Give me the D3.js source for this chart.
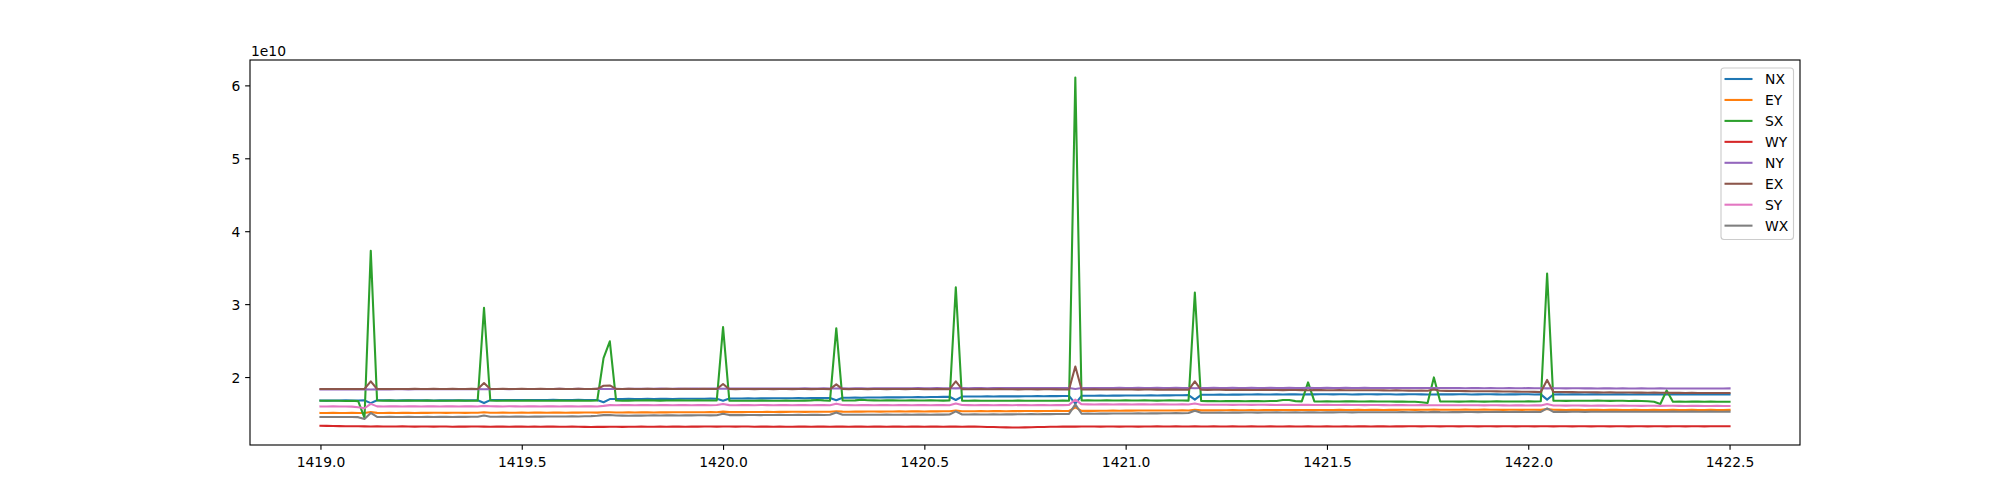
<!DOCTYPE html>
<html>
<head>
<meta charset="utf-8">
<script src="https://cdn.jsdelivr.net/npm/d3@7"></script>
<style>
  html, body { margin: 0; padding: 0; background: #ffffff; }
  svg { display: block; }
  text { font-family: "DejaVu Sans", sans-serif; fill: #000; }
</style>
</head>
<body>
<svg id="chart" width="2000" height="500"></svg>
<script>
// ---- data (values in units of 1e9) ----
const seriesNames = ["NX", "EY", "SX", "WY", "NY", "EX", "SY", "WX"];
const xStart = 1419.0;
const xStep = 1 / 64;
const xTickValues = [1419.0, 1419.5, 1420.0, 1420.5, 1421.0, 1421.5, 1422.0, 1422.5];
const xTickLabels = ["1419.0", "1419.5", "1420.0", "1420.5", "1421.0", "1421.5", "1422.0", "1422.5"];
const yTickValues = [2e10, 3e10, 4e10, 5e10, 6e10];
const yTickLabels = ["2", "3", "4", "5", "6"];
const yOffsetLabel = "1e10";

const NX = [
16.78,16.77,16.79,16.78,16.80,16.79,16.78,16.80,16.42,16.82,
16.81,16.80,16.79,16.81,16.80,16.82,16.81,16.80,16.79,16.81,
16.80,16.82,16.81,16.80,16.82,16.81,16.44,16.84,16.83,16.85,
16.84,16.85,16.86,16.84,16.85,16.86,16.85,16.87,16.86,16.85,
16.86,16.87,16.86,16.85,16.86,16.55,16.98,17.00,16.99,17.01,
17.00,16.99,17.01,17.00,17.02,17.01,17.00,17.02,17.03,17.02,
17.03,17.02,17.04,17.03,16.76,17.05,17.06,17.05,17.07,17.06,
17.08,17.07,17.09,17.08,17.10,17.09,17.11,17.10,17.12,17.11,
17.12,17.13,16.82,17.15,17.16,17.18,17.17,17.19,17.20,17.19,
17.21,17.22,17.21,17.23,17.24,17.25,17.24,17.26,17.27,17.28,
17.29,16.85,17.32,17.33,17.34,17.33,17.35,17.34,17.36,17.35,
17.36,17.35,17.37,17.36,17.38,17.37,17.39,17.38,17.40,17.41,
16.35,17.43,17.44,17.43,17.45,17.44,17.46,17.45,17.47,17.46,
17.48,17.47,17.49,17.48,17.50,17.49,17.51,17.50,17.52,16.90,
17.56,17.58,17.57,17.59,17.58,17.60,17.59,17.61,17.60,17.62,
17.61,17.60,17.62,17.61,17.63,17.62,17.61,17.63,17.62,17.64,
17.63,17.62,17.64,17.63,17.61,17.62,17.64,17.63,17.62,17.64,
17.63,17.61,17.62,17.64,17.63,17.62,17.61,17.60,17.62,17.63,
17.62,17.64,17.63,17.61,17.62,17.63,17.64,17.62,17.61,17.63,
17.62,17.64,17.63,17.61,17.62,16.90,17.60,17.62,17.61,17.63,
17.62,17.61,17.63,17.62,17.60,17.61,17.63,17.62,17.61,17.60,
17.62,17.61,17.63,17.62,17.61,17.60,17.62,17.61,17.63,17.62,
17.61,17.60,17.62,17.61,17.62
];

const EY = [
15.08,15.07,15.09,15.08,15.07,15.09,15.08,15.06,15.20,15.09,
15.08,15.09,15.08,15.10,15.09,15.08,15.10,15.09,15.11,15.10,
15.09,15.11,15.10,15.09,15.11,15.10,15.16,15.11,15.10,15.12,
15.11,15.10,15.12,15.11,15.13,15.12,15.11,15.13,15.12,15.11,
15.13,15.12,15.14,15.13,15.12,15.16,15.18,15.14,15.13,15.15,
15.14,15.16,15.15,15.14,15.16,15.15,15.17,15.16,15.18,15.17,
15.18,15.17,15.19,15.18,15.26,15.19,15.20,15.19,15.21,15.20,
15.21,15.22,15.21,15.23,15.22,15.24,15.23,15.22,15.24,15.23,
15.25,15.24,15.32,15.26,15.25,15.27,15.26,15.28,15.27,15.26,
15.28,15.27,15.29,15.28,15.30,15.29,15.28,15.30,15.29,15.31,
15.30,15.40,15.31,15.32,15.31,15.33,15.32,15.34,15.33,15.32,
15.34,15.33,15.35,15.34,15.33,15.35,15.34,15.36,15.35,15.34,
15.85,15.36,15.37,15.36,15.38,15.37,15.39,15.38,15.40,15.39,
15.41,15.40,15.42,15.41,15.40,15.42,15.41,15.43,15.42,15.50,
15.43,15.44,15.43,15.45,15.44,15.46,15.45,15.44,15.46,15.45,
15.47,15.46,15.48,15.47,15.46,15.48,15.47,15.49,15.48,15.47,
15.49,15.48,15.50,15.49,15.48,15.50,15.49,15.51,15.50,15.49,
15.51,15.50,15.52,15.51,15.50,15.52,15.51,15.53,15.52,15.51,
15.52,15.51,15.53,15.52,15.51,15.53,15.52,15.51,15.50,15.52,
15.51,15.50,15.52,15.51,15.50,15.62,15.51,15.50,15.49,15.51,
15.50,15.49,15.51,15.50,15.49,15.51,15.50,15.49,15.48,15.50,
15.49,15.48,15.50,15.49,15.48,15.50,15.49,15.48,15.50,15.49,
15.48,15.50,15.49,15.48,15.49
];

const SX = [
16.76,16.75,16.74,16.76,16.72,16.74,16.70,14.40,37.30,16.78,
16.76,16.77,16.75,16.76,16.78,16.76,16.75,16.77,16.76,16.74,
16.76,16.75,16.77,16.76,16.74,16.76,29.50,16.78,16.76,16.75,
16.77,16.76,16.75,16.77,16.76,16.74,16.76,16.75,16.77,16.76,
16.75,16.77,16.76,16.75,16.78,22.60,24.90,16.78,16.76,16.77,
16.79,16.78,16.80,16.79,16.77,16.79,16.78,16.80,16.79,16.78,
16.80,16.79,16.78,16.80,26.85,16.76,16.75,16.74,16.76,16.75,
16.77,16.76,16.74,16.75,16.77,16.76,16.75,16.77,16.80,16.86,
16.80,16.76,26.70,16.79,16.78,16.80,16.88,16.81,16.80,16.79,
16.81,16.80,16.79,16.78,16.80,16.79,16.78,16.80,16.79,16.77,
16.78,32.30,16.76,16.75,16.77,16.74,16.76,16.75,16.74,16.76,
16.75,16.77,16.74,16.76,16.75,16.74,16.76,16.75,16.77,16.74,
61.08,16.79,16.80,16.78,16.79,16.81,16.79,16.78,16.80,16.79,
16.78,16.80,16.79,16.77,16.78,16.80,16.79,16.78,16.77,31.60,
16.72,16.70,16.71,16.69,16.70,16.72,16.70,16.69,16.71,16.70,
16.69,16.71,16.72,16.86,16.84,16.70,16.66,19.26,16.66,16.65,
16.66,16.64,16.65,16.67,16.66,16.64,16.65,16.66,16.64,16.65,
16.64,16.63,16.64,16.62,16.60,16.55,16.45,19.95,16.66,16.64,
16.65,16.63,16.64,16.66,16.65,16.63,16.64,16.66,16.65,16.64,
16.64,16.65,16.66,16.64,16.68,34.20,16.74,16.75,16.73,16.74,
16.76,16.74,16.75,16.78,16.74,16.73,16.75,16.74,16.72,16.73,
16.71,16.68,16.60,16.30,18.16,16.62,16.63,16.62,16.64,16.63,
16.62,16.63,16.62,16.61,16.62
];

const WY = [
13.32,13.30,13.28,13.27,13.26,13.25,13.24,13.23,13.22,13.23,
13.22,13.21,13.22,13.23,13.21,13.20,13.22,13.21,13.20,13.22,
13.21,13.19,13.21,13.20,13.22,13.21,13.20,13.19,13.21,13.20,
13.19,13.21,13.20,13.18,13.20,13.19,13.21,13.20,13.19,13.18,
13.20,13.19,13.17,13.16,13.18,13.17,13.19,13.18,13.17,13.19,
13.18,13.20,13.19,13.18,13.20,13.19,13.21,13.20,13.19,13.21,
13.20,13.22,13.21,13.20,13.22,13.21,13.20,13.22,13.21,13.19,
13.20,13.21,13.19,13.20,13.18,13.19,13.21,13.20,13.19,13.21,
13.20,13.19,13.21,13.20,13.19,13.21,13.20,13.19,13.21,13.20,
13.19,13.21,13.20,13.19,13.21,13.20,13.19,13.21,13.20,13.19,
13.21,13.20,13.19,13.21,13.20,13.18,13.16,13.14,13.12,13.10,
13.09,13.08,13.10,13.12,13.14,13.16,13.18,13.19,13.20,13.21,
13.20,13.21,13.22,13.21,13.20,13.22,13.21,13.20,13.22,13.21,
13.20,13.22,13.21,13.23,13.22,13.21,13.23,13.22,13.21,13.23,
13.22,13.21,13.23,13.22,13.21,13.23,13.22,13.21,13.23,13.22,
13.21,13.23,13.22,13.21,13.23,13.22,13.21,13.23,13.22,13.21,
13.23,13.22,13.21,13.23,13.22,13.24,13.23,13.22,13.24,13.23,
13.22,13.24,13.23,13.25,13.24,13.23,13.25,13.24,13.23,13.25,
13.24,13.23,13.25,13.24,13.23,13.25,13.24,13.23,13.25,13.24,
13.23,13.25,13.24,13.23,13.25,13.24,13.23,13.25,13.24,13.23,
13.25,13.24,13.23,13.25,13.24,13.23,13.25,13.24,13.23,13.25,
13.24,13.23,13.25,13.24,13.23,13.25,13.24,13.23,13.25,13.24,
13.23,13.25,13.24,13.25,13.26
];

const NY = [
18.30,18.31,18.30,18.29,18.31,18.30,18.32,18.31,18.30,18.31,
18.32,18.31,18.33,18.32,18.31,18.33,18.32,18.34,18.33,18.32,
18.34,18.33,18.35,18.34,18.33,18.35,18.33,18.34,18.36,18.35,
18.34,18.36,18.35,18.37,18.36,18.35,18.37,18.36,18.38,18.37,
18.36,18.38,18.37,18.36,18.38,18.37,18.36,18.38,18.37,18.39,
18.38,18.40,18.39,18.40,18.41,18.40,18.39,18.41,18.40,18.42,
18.41,18.40,18.42,18.41,18.40,18.42,18.41,18.43,18.42,18.41,
18.43,18.42,18.44,18.43,18.42,18.44,18.43,18.45,18.44,18.43,
18.45,18.44,18.43,18.45,18.44,18.46,18.45,18.44,18.46,18.45,
18.47,18.46,18.45,18.47,18.46,18.48,18.47,18.46,18.48,18.47,
18.46,18.45,18.48,18.47,18.49,18.48,18.47,18.49,18.48,18.50,
18.49,18.48,18.50,18.49,18.48,18.50,18.49,18.48,18.50,18.49,
18.36,18.49,18.50,18.49,18.48,18.50,18.49,18.51,18.50,18.49,
18.51,18.50,18.49,18.51,18.50,18.49,18.51,18.50,18.49,18.47,
18.50,18.49,18.51,18.50,18.49,18.51,18.50,18.49,18.51,18.50,
18.49,18.51,18.50,18.49,18.51,18.50,18.49,18.51,18.50,18.49,
18.51,18.50,18.49,18.51,18.50,18.49,18.51,18.50,18.49,18.50,
18.49,18.48,18.50,18.49,18.48,18.50,18.49,18.48,18.50,18.49,
18.48,18.49,18.47,18.48,18.49,18.47,18.48,18.46,18.47,18.48,
18.46,18.47,18.48,18.46,18.47,18.45,18.46,18.47,18.45,18.46,
18.47,18.45,18.46,18.44,18.45,18.46,18.44,18.45,18.43,18.44,
18.45,18.43,18.44,18.45,18.43,18.44,18.42,18.43,18.44,18.42,
18.43,18.44,18.42,18.43,18.44
];

const EX = [
18.36,18.37,18.36,18.35,18.37,18.36,18.35,18.37,19.40,18.36,
18.37,18.36,18.35,18.37,18.36,18.38,18.37,18.36,18.38,18.37,
18.36,18.38,18.37,18.36,18.38,18.37,19.18,18.37,18.36,18.38,
18.37,18.36,18.38,18.37,18.36,18.38,18.37,18.36,18.38,18.37,
18.36,18.38,18.37,18.36,18.38,18.80,18.85,18.37,18.36,18.38,
18.37,18.36,18.38,18.37,18.36,18.38,18.37,18.36,18.38,18.37,
18.36,18.38,18.37,18.36,19.04,18.35,18.34,18.36,18.35,18.34,
18.36,18.35,18.34,18.36,18.35,18.34,18.36,18.35,18.34,18.36,
18.35,18.34,19.00,18.35,18.34,18.36,18.35,18.34,18.36,18.35,
18.34,18.36,18.35,18.34,18.36,18.35,18.34,18.33,18.35,18.34,
18.33,19.40,18.34,18.33,18.32,18.34,18.33,18.32,18.34,18.33,
18.32,18.31,18.33,18.32,18.31,18.33,18.32,18.31,18.30,18.31,
21.45,18.30,18.29,18.31,18.30,18.29,18.28,18.30,18.29,18.28,
18.27,18.29,18.28,18.27,18.26,18.28,18.27,18.26,18.25,19.40,
18.25,18.24,18.26,18.25,18.24,18.23,18.25,18.24,18.23,18.22,
18.24,18.23,18.22,18.21,18.23,18.22,18.21,18.20,18.22,18.21,
18.20,18.19,18.21,18.20,18.19,18.18,18.20,18.19,18.18,18.17,
18.16,18.17,18.15,18.14,18.13,18.14,18.12,18.30,18.11,18.10,
18.09,18.08,18.07,18.06,18.05,18.06,18.04,18.03,18.02,18.01,
18.00,17.99,17.98,17.97,17.96,19.60,17.95,17.94,17.93,17.94,
17.92,17.91,17.92,17.90,17.89,17.90,17.88,17.87,17.88,17.86,
17.87,17.85,17.86,17.84,17.85,17.83,17.84,17.82,17.83,17.82,
17.81,17.82,17.80,17.81,17.82
];

const SY = [
15.97,15.96,15.98,15.97,15.96,15.94,15.85,15.72,16.32,15.98,
15.97,15.99,15.98,15.97,15.99,15.98,15.97,15.99,15.98,15.97,
15.99,15.98,15.97,15.99,15.98,15.97,16.05,15.99,15.98,15.97,
15.99,15.98,15.97,15.99,15.98,15.97,15.99,15.98,15.97,15.99,
15.98,15.97,15.99,15.98,15.97,16.05,16.15,16.14,16.16,16.15,
16.14,16.16,16.15,16.14,16.16,16.15,16.14,16.16,16.15,16.14,
16.16,16.15,16.14,16.16,16.30,16.15,16.14,16.16,16.15,16.14,
16.16,16.15,16.14,16.16,16.15,16.14,16.16,16.15,16.14,16.16,
16.15,16.14,16.35,16.16,16.15,16.14,16.16,16.15,16.14,16.16,
16.15,16.14,16.16,16.15,16.14,16.16,16.15,16.14,16.16,16.15,
16.14,16.36,16.16,16.15,16.14,16.16,16.15,16.14,16.16,16.15,
16.14,16.16,16.15,16.14,16.16,16.15,16.14,16.16,16.15,16.18,
16.90,16.26,16.25,16.24,16.26,16.25,16.24,16.26,16.25,16.24,
16.26,16.25,16.24,16.26,16.25,16.24,16.23,16.25,16.24,16.36,
16.20,16.19,16.21,16.20,16.19,16.18,16.20,16.19,16.18,16.20,
16.19,16.18,16.17,16.19,16.18,16.17,16.19,16.18,16.17,16.16,
16.18,16.17,16.16,16.18,16.17,16.16,16.15,16.17,16.16,16.15,
16.14,16.16,16.15,16.14,16.13,16.15,16.14,16.13,16.12,16.14,
16.13,16.12,16.14,16.13,16.12,16.11,16.13,16.12,16.11,16.10,
16.12,16.11,16.10,16.12,16.11,16.30,16.10,16.09,16.08,16.10,
16.09,16.08,16.07,16.09,16.08,16.07,16.06,16.08,16.07,16.06,
16.05,16.07,16.06,16.05,16.07,16.06,16.05,16.04,16.06,16.05,
16.04,16.03,16.05,16.04,16.03
];

const WX = [
14.52,14.51,14.53,14.52,14.51,14.53,14.50,14.25,15.07,14.53,
14.52,14.54,14.53,14.52,14.54,14.53,14.52,14.54,14.53,14.55,
14.54,14.53,14.55,14.54,14.56,14.55,14.72,14.56,14.55,14.57,
14.56,14.58,14.57,14.56,14.58,14.57,14.59,14.58,14.60,14.59,
14.61,14.60,14.62,14.64,14.68,14.78,14.80,14.72,14.71,14.70,
14.72,14.71,14.73,14.74,14.73,14.75,14.74,14.73,14.75,14.74,
14.76,14.75,14.74,14.76,14.97,14.78,14.79,14.78,14.80,14.79,
14.78,14.80,14.79,14.81,14.80,14.79,14.81,14.80,14.82,14.81,
14.80,14.82,15.15,14.83,14.82,14.84,14.83,14.82,14.84,14.83,
14.85,14.84,14.83,14.85,14.84,14.86,14.85,14.84,14.86,14.85,
14.86,15.29,14.87,14.86,14.88,14.87,14.86,14.88,14.87,14.89,
14.88,14.90,14.89,14.91,14.90,14.92,14.91,14.93,14.92,14.94,
16.25,14.97,14.98,14.97,14.99,14.98,15.00,14.99,15.01,15.00,
15.02,15.01,15.03,15.02,15.04,15.03,15.05,15.04,15.06,15.38,
15.10,15.11,15.10,15.12,15.11,15.13,15.12,15.14,15.13,15.12,
15.14,15.13,15.15,15.14,15.13,15.15,15.14,15.16,15.15,15.14,
15.16,15.15,15.17,15.16,15.15,15.17,15.16,15.18,15.17,15.16,
15.18,15.17,15.19,15.18,15.17,15.19,15.18,15.22,15.19,15.18,
15.20,15.19,15.21,15.20,15.19,15.21,15.20,15.22,15.21,15.20,
15.22,15.21,15.20,15.22,15.21,15.70,15.22,15.23,15.22,15.24,
15.23,15.22,15.24,15.23,15.25,15.24,15.23,15.25,15.24,15.23,
15.25,15.24,15.23,15.25,15.24,15.26,15.25,15.24,15.26,15.25,
15.24,15.26,15.25,15.24,15.25
];

const seriesValues = [NX, EY, SX, WY, NY, EX, SY, WX];
const seriesColors = ["#1f77b4", "#ff7f0e", "#2ca02c", "#d62728", "#9467bd", "#8c564b", "#e377c2", "#7f7f7f"];

// ---- layout ----
const W = 2000, H = 500;
const margin = { left: 250, right: 200, top: 60, bottom: 55 };
const plotW = W - margin.left - margin.right;
const plotH = H - margin.top - margin.bottom;
const FONT = 13.89;
const PT = 100 / 72;           // matplotlib points -> px at dpi 100
const LINE_W = 1.5 * PT;
const SPINE_W = 0.8 * PT;
const TICK_LEN = 3.5 * PT;
const TICK_PAD = 3.5 * PT;

const xs = seriesValues[0].map((_, i) => xStart + i * xStep);
const series = seriesNames.map((name, k) => ({
  name,
  color: seriesColors[k],
  points: seriesValues[k].map((v, i) => ({ x: xs[i], y: v * 1e9 }))
}));

const xMin = d3.min(xs), xMax = d3.max(xs);
const xPad = (xMax - xMin) * 0.05;
const allY = series.flatMap(s => s.points.map(p => p.y));
const yMin = d3.min(allY), yMax = d3.max(allY);
const yPad = (yMax - yMin) * 0.05;

const x = d3.scaleLinear().domain([xMin - xPad, xMax + xPad]).range([margin.left, margin.left + plotW]);
const y = d3.scaleLinear().domain([yMin - yPad, yMax + yPad]).range([margin.top + plotH, margin.top]);

const svg = d3.select("#chart");
svg.append("rect").attr("width", W).attr("height", H).attr("fill", "#fff");

// clip
svg.append("clipPath").attr("id", "clip")
  .append("rect").attr("x", margin.left).attr("y", margin.top).attr("width", plotW).attr("height", plotH);

// lines
const line = d3.line().x(d => x(d.x)).y(d => y(d.y));
const gLines = svg.append("g").attr("clip-path", "url(#clip)");
series.forEach(s => {
  gLines.append("path")
    .datum(s.points)
    .attr("d", line)
    .attr("fill", "none")
    .attr("stroke", s.color)
    .attr("stroke-width", LINE_W)
    .attr("stroke-linejoin", "round")
    .attr("stroke-linecap", "square");
});

// axes
const xAxis = d3.axisBottom(x).tickValues(xTickValues).tickFormat((d, i) => xTickLabels[i]).tickSize(TICK_LEN).tickPadding(TICK_PAD);
const yAxis = d3.axisLeft(y).tickValues(yTickValues).tickFormat((d, i) => yTickLabels[i]).tickSize(TICK_LEN).tickPadding(TICK_PAD);

const gx = svg.append("g").attr("transform", `translate(0,${margin.top + plotH})`).call(xAxis);
const gy = svg.append("g").attr("transform", `translate(${margin.left},0)`).call(yAxis);
[gx, gy].forEach(g => {
  g.select(".domain").remove();
  g.selectAll(".tick line").attr("stroke", "#000").attr("stroke-width", SPINE_W);
  g.selectAll(".tick text").attr("font-family", "DejaVu Sans").attr("font-size", FONT).attr("fill", "#000");
});
gx.selectAll(".tick text").attr("dy", null).attr("y", 21.5);
gy.selectAll(".tick text").attr("dy", null).attr("dominant-baseline", "central");

// offset text
svg.append("text")
  .attr("x", margin.left + 1)
  .attr("y", 56)
  .attr("font-size", FONT)
  .attr("font-family", "DejaVu Sans")
  .text(yOffsetLabel);

// spines
svg.append("rect")
  .attr("x", margin.left).attr("y", margin.top)
  .attr("width", plotW).attr("height", plotH)
  .attr("fill", "none").attr("stroke", "#000").attr("stroke-width", SPINE_W);

// legend
const lg = svg.append("g");
const lx = 1721, ly = 68, lw = 72.5, lh = 171.5;
lg.append("rect")
  .attr("x", lx).attr("y", ly).attr("width", lw).attr("height", lh)
  .attr("rx", 3).attr("ry", 3)
  .attr("fill", "#fff").attr("fill-opacity", 0.8)
  .attr("stroke", "#cccccc").attr("stroke-width", SPINE_W);
series.forEach((s, k) => {
  const cy = 79 + k * 20.95;
  lg.append("line")
    .attr("x1", lx + 3.5).attr("x2", lx + 31.5)
    .attr("y1", cy).attr("y2", cy)
    .attr("stroke", s.color).attr("stroke-width", LINE_W);
  lg.append("text")
    .attr("x", lx + 44)
    .attr("y", cy)
    .attr("dominant-baseline", "central")
    .attr("font-size", FONT)
    .attr("font-family", "DejaVu Sans")
    .text(s.name);
});
</script>
</body>
</html>
